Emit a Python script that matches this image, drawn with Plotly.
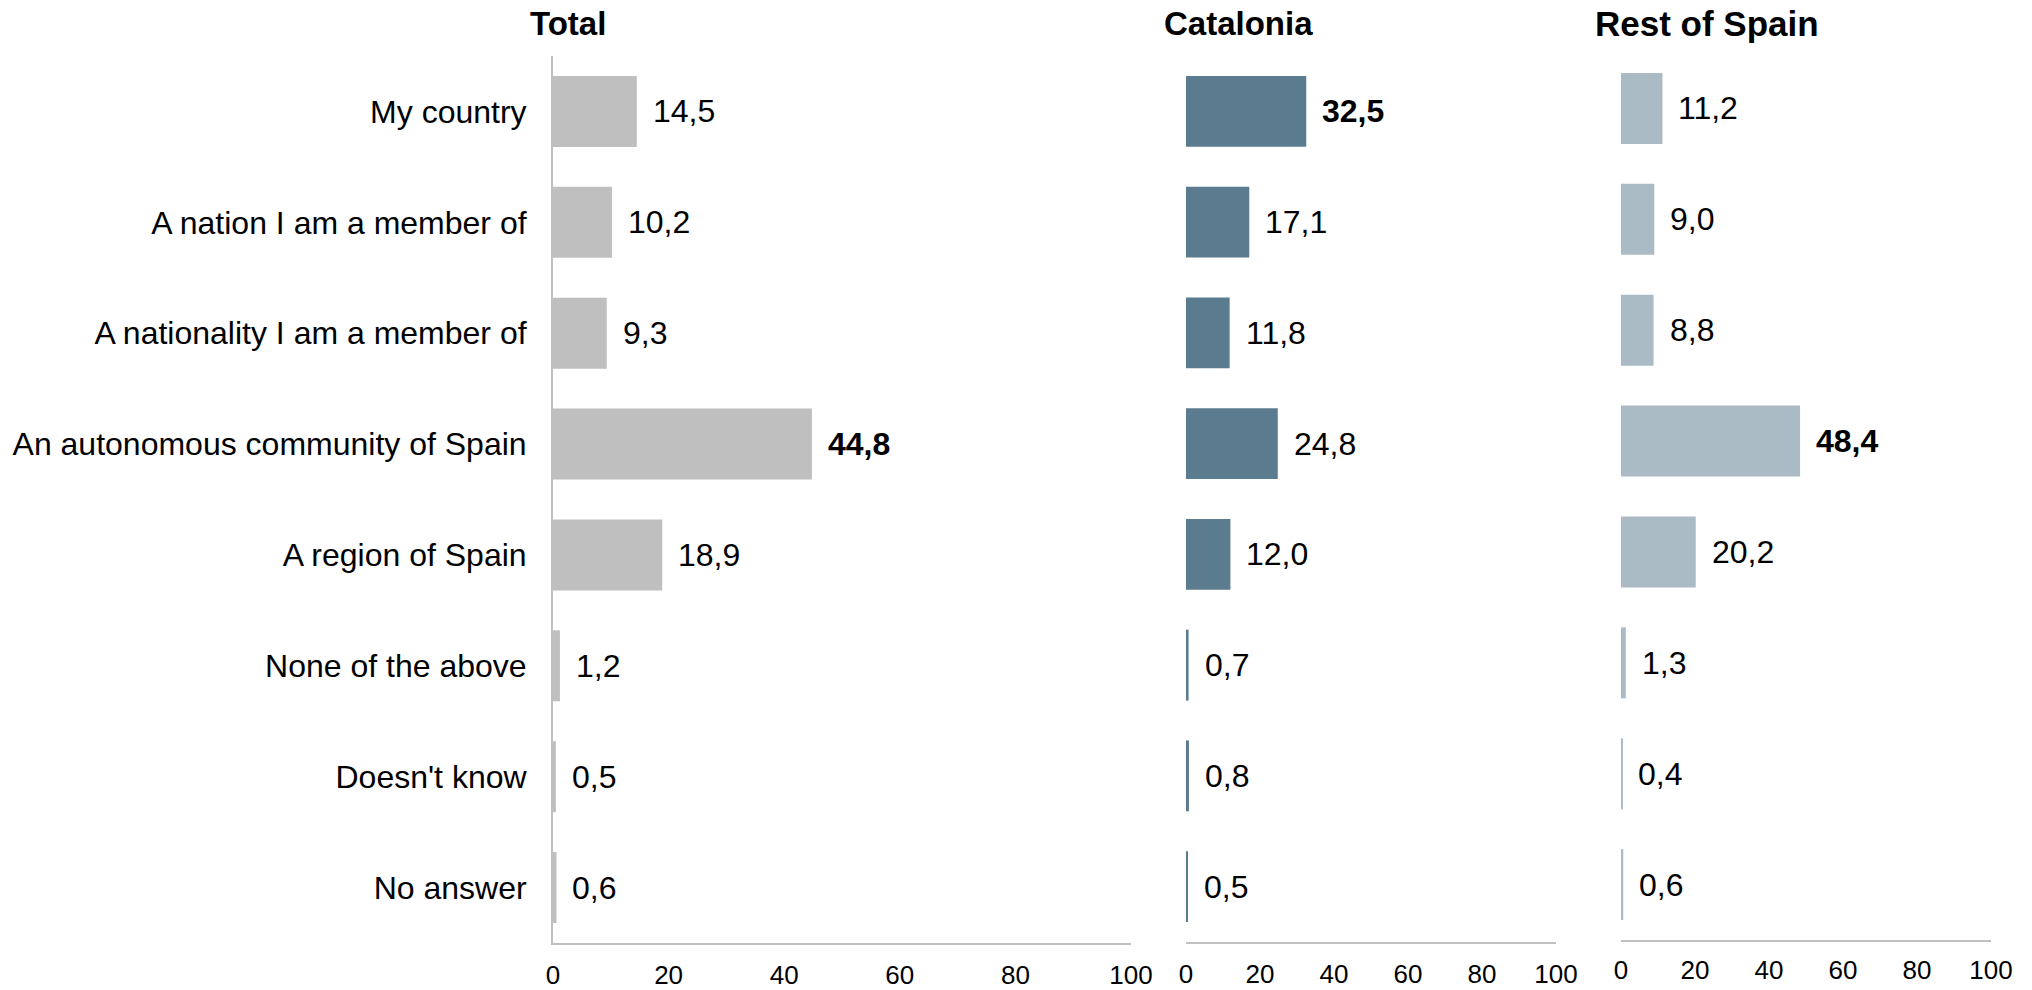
import plotly.graph_objects as go

categories = ["My country", "A nation I am a member of", "A nationality I am a member of",
              "An autonomous community of Spain", "A region of Spain", "None of the above",
              "Doesn't know", "No answer"]
total = [14.5, 10.2, 9.3, 44.8, 18.9, 1.2, 0.5, 0.6]
catalonia = [32.5, 17.1, 11.8, 24.8, 12.0, 0.7, 0.8, 0.5]
rest_of_spain = [11.2, 9.0, 8.8, 48.4, 20.2, 1.3, 0.4, 0.6]
panel_titles = ["Total", "Catalonia", "Rest of Spain"]
tick_vals = [0, 20, 40, 60, 80, 100]

series = [total, catalonia, rest_of_spain]
colors = ["#bfbfbf", "#5b7c8e", "#abbbc5"]
W, H = 2032, 990
x_domains_px = [(553, 1131), (1186, 1556), (1621, 1991)]
y_domains_px = [(56, 943), (56, 942), (53, 940)]
tick_standoff = [8, 8, 6]
title_left_px = [528, 1162, 1593]
title_sizes = [33, 33, 35]

FONT = "Liberation Sans, Arial, sans-serif"
AXIS_COLOR = "#c0c0c0"

fig = go.Figure()
annotations = []
for i, (vals, col) in enumerate(zip(series, colors)):
    suffix = "" if i == 0 else str(i + 1)
    fig.add_trace(go.Bar(
        x=vals, y=categories, orientation="h",
        marker=dict(color=col, line=dict(width=0)),
        xaxis="x" + suffix, yaxis="y" + suffix,
        showlegend=False, hoverinfo="skip",
    ))
    vmax = max(vals)
    for c, v in zip(categories, vals):
        txt = f"{v:.1f}".replace(".", ",")
        if v == vmax:
            txt = f"<b>{txt}</b>"
        annotations.append(dict(
            x=v, y=c, xref="x" + suffix, yref="y" + suffix,
            text=txt, showarrow=False, xanchor="left", yanchor="middle",
            xshift=14, font=dict(family=FONT, size=32, color="#000000"),
        ))
    annotations.append(dict(
        x=title_left_px[i] / W, y=1 - 23 / H, xref="paper", yref="paper",
        text=f"<b>{panel_titles[i]}</b>", showarrow=False,
        xanchor="left", yanchor="middle",
        font=dict(family=FONT, size=title_sizes[i], color="#000000"),
    ))

layout = dict(
    template="none",
    width=W, height=H,
    margin=dict(l=0, r=0, t=0, b=0, autoexpand=False),
    paper_bgcolor="white", plot_bgcolor="white",
    bargap=0.36,
    annotations=annotations,
    showlegend=False,
)
for i in range(3):
    suffix = "" if i == 0 else str(i + 1)
    x0, x1 = x_domains_px[i]
    yt, yb = y_domains_px[i]
    layout["xaxis" + suffix] = dict(
        domain=[x0 / W, x1 / W], range=[0, 100], anchor="y" + suffix,
        tickvals=tick_vals, ticktext=[str(t) for t in tick_vals],
        showgrid=False, zeroline=False, showline=True, linecolor=AXIS_COLOR, linewidth=2,
        ticks="", ticklabelstandoff=tick_standoff[i],
        tickfont=dict(family=FONT, size=26, color="#000000"),
        automargin=False, fixedrange=True,
    )
    layout["yaxis" + suffix] = dict(
        domain=[1 - yb / H, 1 - yt / H], anchor="x" + suffix,
        autorange="reversed", type="category",
        showgrid=False, zeroline=False,
        showline=(i == 0), linecolor=AXIS_COLOR, linewidth=2,
        ticks="", showticklabels=(i == 0), ticklabelstandoff=18,
        tickfont=dict(family=FONT, size=32, color="#000000"),
        automargin=False, fixedrange=True,
    )
fig.update_layout(**layout)
fig.write_html("out.html", config={"displayModeBar": False},
               post_script="document.body.style.margin='0';")
